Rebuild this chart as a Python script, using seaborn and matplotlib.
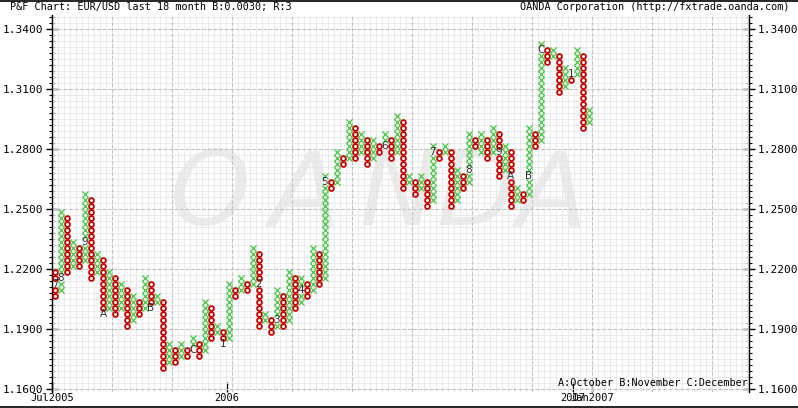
import numpy as np
import pandas as pd
import matplotlib
matplotlib.use("Agg")
import matplotlib.pyplot as plt
import seaborn as sns
from matplotlib.lines import Line2D
from matplotlib.ticker import FixedLocator

# ---------------- data (box units: price = BASE + BOX * box) ----------------
BASE = 1.1600
BOX = 0.0030
# column kinds alternate O / X, first column is O
col_kind = ["O" if i % 2 == 0 else "X" for i in range(90)]
col_low = [15, 16, 19, 20, 20, 21, 18, 19, 12, 13,
           12, 13, 10, 11, 12, 13, 13, 14, 3, 4,
           4, 5, 5, 6, 5, 6, 8, 9, 7, 8,
           15, 16, 16, 17, 10, 11, 9, 10, 10, 11,
           13, 14, 15, 16, 17, 18, 33, 34, 37, 38,
           38, 39, 37, 38, 39, 40, 38, 39, 33, 34,
           32, 33, 30, 31, 38, 39, 30, 31, 33, 34,
           40, 39, 38, 39, 35, 36, 30, 31, 31, 32,
           40, 41, 54, 55, 49, 50, 51, 52, 43, 44]
col_high = [19, 29, 28, 24, 23, 32, 31, 22, 21, 19,
            18, 17, 16, 15, 14, 18, 17, 15, 14, 7,
            6, 7, 6, 8, 7, 14, 13, 10, 9, 17,
            16, 18, 17, 23, 22, 12, 11, 16, 15, 19,
            18, 18, 17, 23, 22, 35, 34, 39, 38, 44,
            43, 42, 41, 41, 40, 42, 41, 45, 44, 35,
            34, 35, 34, 40, 39, 40, 39, 36, 35, 42,
            41, 42, 41, 43, 42, 40, 39, 33, 32, 43,
            42, 57, 56, 56, 55, 53, 52, 56, 55, 46]
# month markers: (column, box, label)
month_col = [0, 1, 5, 8, 16, 23, 28, 34, 37, 41, 45, 55, 63, 69, 74, 76, 79, 81, 86]
month_box = [17, 18, 24, 12, 13, 6, 7, 17, 11, 16, 34, 40, 39, 36, 39, 35, 35, 56, 52]
month_txt = ["7", "8", "9", "A", "B", "C", "1", "2", "3", "4", "5", "6", "7", "8", "9", "A", "B", "C", "1"]
y_ticks = [1.1600, 1.1900, 1.2200, 1.2500, 1.2800, 1.3100, 1.3400]
date_pos = [-0.5, 28.6, 86.3, 89.5]
date_lbl = ["Jul2005", "2006", "2007", "Jan2007"]

# ---------------- build points ----------------
skip = set(zip(month_col, month_box))
rows = []
for i, (kd, lo, hi) in enumerate(zip(col_kind, col_low, col_high)):
    for b in range(lo, hi + 1):
        if (i, b) in skip:
            continue
        rows.append((i, BASE + BOX * (b + 0.5), kd))
df = pd.DataFrame(rows, columns=["col", "price", "kind"])

GREEN = "#44c844"
RED = "#cc0000"

sns.set_theme(style="white")
plt.rcParams["font.family"] = ["DejaVu Sans Mono", "DejaVu Sans"]

W, H = 798, 408
fig = plt.figure(figsize=(W / 100, H / 100), dpi=100)
ax = fig.add_axes([52 / W, (H - 392) / H, (749 - 52) / W, (392 - 15) / H])
ax.set_xlim(-0.5, 115.7)
ax.set_ylim(1.1585, 1.347)

# watermark
for ch, px in zip("OANDA", [210, 305, 398, 476, 552]):
    ax.text(px / W, (H - 225) / H, ch, transform=fig.transFigure, ha="center", va="baseline",
            fontsize=74, fontstyle="italic", family="DejaVu Sans", color="#ebebeb", zorder=0.5)

# minor grid
y0, y1 = ax.get_ylim()
x0, x1 = ax.get_xlim()
ax.vlines(np.arange(-0.5, 116, 1.0), y0, y1, colors="#e6e6e6", lw=0.6, zorder=1)
ax.hlines(BASE + BOX * np.arange(-1, 64), x0, x1, colors="#e6e6e6", lw=0.6, zorder=1)
# major grid (dashed)
ax.vlines(np.arange(-0.5, 116, 10.0), y0, y1, colors="#c0c0c0", lw=0.8,
          linestyles=(0, (3, 2)), zorder=1.1)
ax.hlines(y_ticks, x0, x1, colors="#c0c0c0", lw=0.8, linestyles=(0, (3, 2)), zorder=1.1)

sns.scatterplot(data=df[df.kind == "X"], x="col", y="price", marker="x", color=GREEN,
                s=19, linewidth=0.9, ax=ax, legend=False, zorder=3)
sns.scatterplot(data=df[df.kind == "O"], x="col", y="price", marker="o", color=RED,
                facecolor="white", edgecolor=RED, s=12, linewidth=1.3, ax=ax,
                legend=False, zorder=3)

for c, b, t in zip(month_col, month_box, month_txt):
    ax.text(c, BASE + BOX * (b + 0.5), t, ha="center", va="center", fontsize=7.5,
            family="DejaVu Sans", color="#333333", zorder=4)

# axes styling
for s in ["top", "bottom"]:
    ax.spines[s].set_visible(False)
for s in ["left", "right"]:
    ax.spines[s].set_color("black")
    ax.spines[s].set_linewidth(1.0)
ax.set_xlabel("")
ax.set_ylabel("")
ax.set_yticks(y_ticks)
ax.set_yticklabels([f"{v:.4f}" for v in y_ticks])
ax.yaxis.set_minor_locator(FixedLocator(BASE + BOX * np.arange(0, 63)))
ax.tick_params(axis="y", which="major", direction="inout", length=9, width=1,
               left=True, right=True, labelleft=True, labelright=True,
               labelsize=8, pad=2, colors="black")
ax.tick_params(axis="y", which="minor", direction="inout", length=5, width=0.8,
               left=True, right=True, colors="black")
ax.set_xticks(date_pos)
ax.set_xticklabels(date_lbl)
ax.tick_params(axis="x", which="major", direction="in", length=7, width=1,
               bottom=True, labelsize=7.5, pad=1, colors="black")
ax.set_xticks([], minor=True)

ax.text(0.9985, 0.025, "A:October B:November C:December", transform=ax.transAxes,
        ha="right", va="center", fontsize=7.3, color="black", zorder=5)

fig.text(10 / W, 1 - 7 / H, "P&F Chart: EUR/USD last 18 month B:0.0030; R:3",
         ha="left", va="center", fontsize=7.3, color="black")
fig.text(789 / W, 1 - 7 / H, "OANDA Corporation (http://fxtrade.oanda.com)",
         ha="right", va="center", fontsize=7.3, color="black")

fig.add_artist(Line2D([0, 1], [1 - 0.6 / H] * 2, color="black", lw=1.2))
fig.add_artist(Line2D([0, 1], [1.5 / H] * 2, color="black", lw=1.2))

fig.savefig("out.png", dpi=100)
